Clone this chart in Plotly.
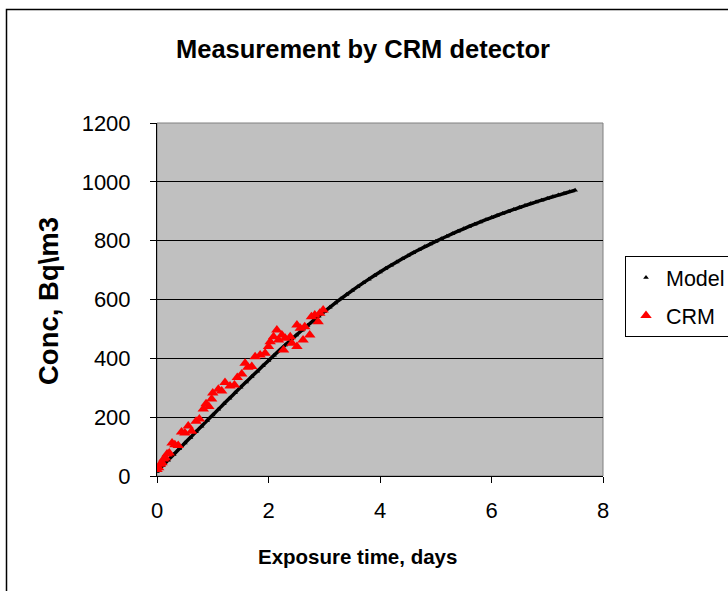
import plotly.graph_objects as go

# Model curve (days, Bq/m3)
model_t = [round(0.1 * i, 1) for i in range(76)]
model_c = [15.0, 34.5, 53.9, 73.3, 92.6, 111.9, 131.1, 150.3, 169.4, 188.5,
           207.5, 226.5, 245.3, 264.1, 282.7, 301.3, 319.7, 338.1, 356.3, 374.5,
           392.5, 410.4, 427.9, 445.2, 462.3, 479.0, 495.5, 511.6, 527.5, 543.2,
           558.5, 573.5, 588.2, 602.6, 616.6, 630.3, 643.6, 656.6, 669.2, 681.5,
           693.5, 705.2, 716.5, 727.6, 738.5, 749.0, 759.3, 769.2, 778.9, 788.4,
           797.5, 806.4, 815.1, 823.7, 832.1, 840.3, 848.3, 856.1, 863.7, 871.2,
           878.5, 885.6, 892.6, 899.5, 906.2, 912.8, 919.2, 925.5, 931.6, 937.6,
           943.5, 949.3, 954.9, 960.5, 966.1, 971.5]

# CRM measurements
crm_t = [0.00, 0.03, 0.06, 0.09, 0.12, 0.15, 0.18, 0.22, 0.27, 0.32,
         0.38, 0.44, 0.50, 0.56, 0.62, 0.70, 0.76, 0.83, 0.88, 0.93,
         0.98, 1.00, 1.10, 1.16, 1.22, 1.31, 1.39, 1.44, 1.52, 1.58,
         1.63, 1.70, 1.76, 1.85, 1.94, 2.00, 2.03, 2.09, 2.15, 2.18,
         2.24, 2.27, 2.30, 2.39, 2.42, 2.51, 2.51, 2.57, 2.62, 2.65,
         2.74, 2.77, 2.83, 2.89, 2.92, 2.98]
crm_c = [22, 28, 40, 45, 58, 62, 75, 78, 112, 106,
         104, 150, 146, 170, 152, 186, 194, 228, 246, 236,
         262, 282, 295, 289, 318, 306, 309, 335, 347, 383,
         370, 372, 405, 411, 417, 440, 456, 473, 496, 462,
         479, 428, 468, 473, 451, 513, 440, 502, 462, 507,
         479, 541, 547, 524, 553, 564]

x_ticks = [0, 2, 4, 6, 8]
y_ticks = [0, 200, 400, 600, 800, 1000, 1200]

FONT = "Liberation Sans, Arial, sans-serif"

fig = go.Figure()
fig.add_trace(go.Scatter(x=model_t, y=model_c, mode="lines",
                         line=dict(color="black", width=3.5, shape="spline"),
                         showlegend=False, hoverinfo="skip"))
fig.add_trace(go.Scatter(x=model_t, y=model_c, mode="markers", name="Model",
                         legendgroup="a",
                         marker=dict(symbol="triangle-up", size=5, color="black")))
fig.add_trace(go.Scatter(x=crm_t, y=crm_c, mode="markers", name="CRM",
                         legendgroup="b",
                         marker=dict(symbol="triangle-up", size=10, color="#FF0000")))

L, R, T, B = 157, 125, 123, 115
W, H = 728, 591
pw, ph = W - L - R, H - T - B

def px(x):
    return (x - L) / pw

def py(y):
    return (H - B - y) / ph

fig.update_layout(
    width=W, height=H,
    margin=dict(l=L, r=R, t=T, b=B, autoexpand=False),
    paper_bgcolor="white",
    plot_bgcolor="#C0C0C0",
    font=dict(family=FONT, size=22, color="black"),
    title=dict(text="<b>Measurement by CRM detector</b>",
               font=dict(family=FONT, size=25.5, color="black"),
               x=363 / W, xref="container", xanchor="center",
               y=1 - 49 / H, yref="container", yanchor="middle"),
    xaxis=dict(range=[0, 8], tickvals=x_ticks, showgrid=False, zeroline=False,
               showline=True, linecolor="black", linewidth=1,
               ticks="outside", ticklen=6, tickcolor="black",
               ticklabelstandoff=9),
    yaxis=dict(range=[0, 1200], tickvals=y_ticks, showgrid=True,
               gridcolor="black", gridwidth=1, zeroline=False,
               showline=True, linecolor="black", linewidth=1,
               ticks="outside", ticklen=6, tickcolor="black",
               ticklabelstandoff=15),
    annotations=[
        dict(text="<b>Exposure time, days</b>", xref="paper", yref="paper",
             x=px(357), y=py(556), xanchor="center", yanchor="middle",
             showarrow=False, font=dict(family=FONT, size=20.5)),
        dict(text="<b>Conc, Bq\\m3</b>", xref="paper", yref="paper",
             x=px(48), y=py(301), xanchor="center", yanchor="middle",
             textangle=-90, showarrow=False, font=dict(family=FONT, size=27.5)),
    ],
    legend=dict(x=px(625), y=py(256), xanchor="left", yanchor="top",
                bgcolor="white", bordercolor="black", borderwidth=1,
                font=dict(family=FONT, size=21.5), traceorder="grouped",
                tracegroupgap=7),
    shapes=[
        dict(type="rect", xref="paper", yref="paper", x0=0, x1=1, y0=0, y1=1,
             line=dict(color="#808080", width=1), layer="below"),
        dict(type="rect", xref="paper", yref="paper",
             x0=px(6.5), x1=px(W + 20), y0=py(H + 20), y1=py(9.5),
             line=dict(color="black", width=1.5), layer="above"),
    ],
)

fig.write_html("out.html", config={"displayModeBar": False},
               post_script="document.body.style.margin='0';")
